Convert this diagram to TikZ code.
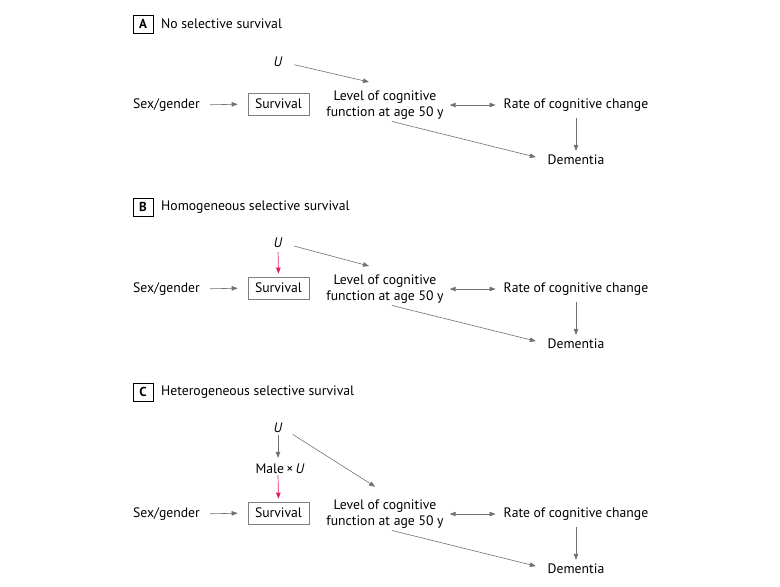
\documentclass[tikz,border=0pt]{standalone}
\usepackage{fontspec}
\setmainfont{PT Sans}
\usetikzlibrary{arrows.meta}
\definecolor{arrgray}{RGB}{112,112,112}
\definecolor{boxgray}{RGB}{128,128,128}
\definecolor{survred}{RGB}{226,30,100}
\tikzset{
  txt/.style={inner sep=0pt, font=\fontsize{13.7}{16.5}\selectfont},
  survbox/.style={txt, draw=boxgray, line width=0.6pt, minimum width=61pt, minimum height=22pt},
  panelbox/.style={draw=black, line width=0.7pt, minimum width=20pt, minimum height=18pt, inner sep=0pt, font=\fontsize{13}{14}\selectfont\bfseries},
  arr/.style={draw=arrgray, line width=0.6pt, -{Triangle[length=6pt,width=4.5pt]}},
  dblarr/.style={draw=arrgray, line width=0.6pt, {Triangle[length=6pt,width=4.5pt]}-{Triangle[length=6pt,width=4.5pt]}},
  redarr/.style={draw=survred, line width=0.7pt, -{Triangle[length=6pt,width=4.5pt]}}
}
\begin{document}
\begin{tikzpicture}[x=1pt,y=-1pt]
\useasboundingbox (0,0) rectangle (780,587);

\node[panelbox] (boxA) at (143,24) {A};
\node[txt, anchor=west] (titleA) at (161,24) {No selective survival};
\node[txt] (uA) at (278,62) {\textit{U}};
\node[txt] (sexA) at (166.5,105) {Sex/gender};
\node[survbox] (survA) at (278.5,104) {Survival};
\node[txt, align=center] (levA) at (385,105) {Level of cognitive\\function at age 50 y};
\node[txt] (rateA) at (576,105) {Rate of cognitive change};
\node[txt] (demA) at (576,160) {Dementia};
\draw[arr, shorten <=10pt, shorten >=10pt] (sexA.east) -- (survA.west);
\draw[arr, shorten <=12pt, shorten >=1pt] (uA.east) -- ([xshift=-15pt,yshift=8pt]levA.north);
\draw[dblarr, shorten <=6pt, shorten >=8pt] (levA.east) -- (rateA.west);
\draw[arr, shorten <=6pt, shorten >=4pt] (rateA.south) -- (demA.north);
\draw[arr, shorten <=7pt, shorten >=12pt] (levA.south) -- (demA.west);

\node[panelbox] (boxB) at (143,207) {B};
\node[txt, anchor=west] (titleB) at (161,207) {Homogeneous selective survival};
\node[txt] (uB) at (278,243) {\textit{U}};
\node[txt] (sexB) at (166.5,289) {Sex/gender};
\node[survbox] (survB) at (278.5,288) {Survival};
\node[txt, align=center] (levB) at (385,289) {Level of cognitive\\function at age 50 y};
\node[txt] (rateB) at (576,289) {Rate of cognitive change};
\node[txt] (demB) at (576,344) {Dementia};
\draw[arr, shorten <=10pt, shorten >=10pt] (sexB.east) -- (survB.west);
\draw[redarr, shorten <=4pt, shorten >=3pt] (uB.south) -- (survB.north);
\draw[arr, shorten <=12pt, shorten >=1pt] (uB.east) -- ([xshift=-15pt,yshift=8pt]levB.north);
\draw[dblarr, shorten <=6pt, shorten >=8pt] (levB.east) -- (rateB.west);
\draw[arr, shorten <=6pt, shorten >=4pt] (rateB.south) -- (demB.north);
\draw[arr, shorten <=7pt, shorten >=12pt] (levB.south) -- (demB.west);

\node[panelbox] (boxC) at (143,392) {C};
\node[txt, anchor=west] (titleC) at (161,392) {Heterogeneous selective survival};
\node[txt] (uC) at (278,428) {\textit{U}};
\node[txt] (maleC) at (280,469) {Male\,×\,\textit{U}};
\node[txt] (sexC) at (166.5,514) {Sex/gender};
\node[survbox] (survC) at (278.5,513) {Survival};
\node[txt, align=center] (levC) at (385,514) {Level of cognitive\\function at age 50 y};
\node[txt] (rateC) at (576,514) {Rate of cognitive change};
\node[txt] (demC) at (576,569) {Dementia};
\draw[arr, shorten <=10pt, shorten >=10pt] (sexC.east) -- (survC.west);
\draw[arr, shorten <=2pt, shorten >=6pt] (uC.south) -- ([xshift=-2pt]maleC.north);
\draw[redarr, shorten <=1pt, shorten >=3pt] ([xshift=-2pt]maleC.south) -- (survC.north);
\draw[arr, shorten <=12pt, shorten >=1pt] (uC.east) -- ([xshift=-9pt,yshift=12pt]levC.north);
\draw[dblarr, shorten <=6pt, shorten >=8pt] (levC.east) -- (rateC.west);
\draw[arr, shorten <=6pt, shorten >=4pt] (rateC.south) -- (demC.north);
\draw[arr, shorten <=7pt, shorten >=12pt] (levC.south) -- (demC.west);
\end{tikzpicture}
\end{document}
